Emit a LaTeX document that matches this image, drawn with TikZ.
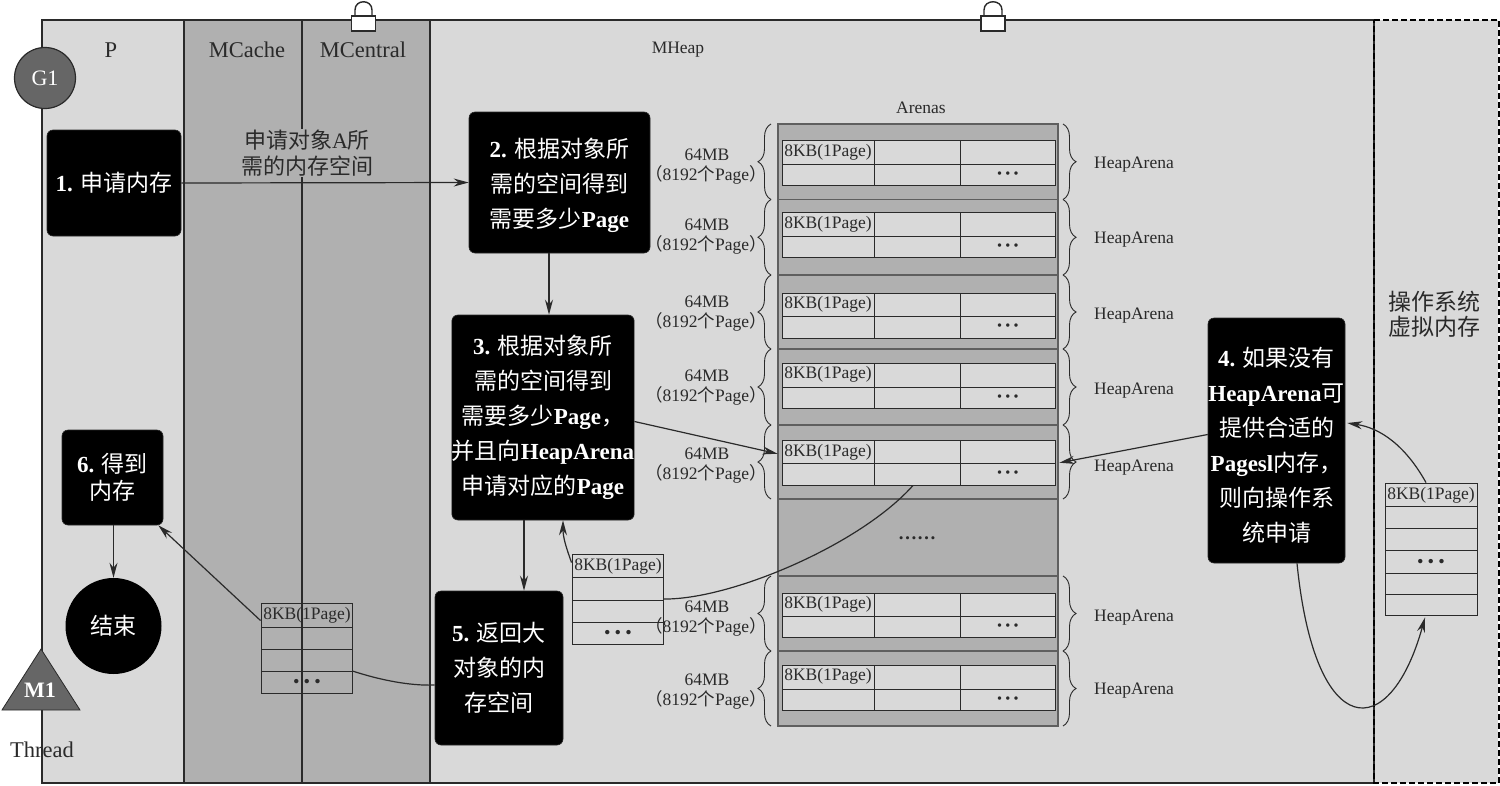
\documentclass[tikz,border=0pt]{standalone}
\usepackage{fontspec}
\setmainfont{Liberation Serif}
\newfontfamily\cjkf{Noto Sans CJK SC}
\newcommand\zh[1]{{\cjkf\mdseries #1}}
\usetikzlibrary{arrows.meta,decorations.pathreplacing,calc}
\definecolor{lite}{HTML}{D9D9D9}
\definecolor{mid}{HTML}{B0B0B0}
\definecolor{ink}{HTML}{2A2A2A}
\definecolor{tok}{HTML}{666666}
\newcommand\fs[2]{\fontsize{#1}{#2}\selectfont}
\newcommand\dotsrow{\textbf{·\kern.06em·\kern.06em·}}
\tikzset{
  wire/.style={draw=ink,line width=1.2pt},
  flow/.style={wire,-{Stealth[length=15pt,width=8pt]}},
  blackbox/.style={fill=black,draw=ink,line width=.6pt,rounded corners=6pt,text=white,inner sep=0pt,align=center,font=\fs{23}{35}\bfseries},
  tablebox/.style={draw=ink,line width=.9pt,inner sep=0pt},
  cell/.style={draw=ink,line width=.9pt},
  label17/.style={text=ink,inner sep=0pt,font=\fs{17.5}{20},align=center},
  label22/.style={text=ink,inner sep=0pt,font=\fs{22.5}{26},align=center},
  lockbody/.style={fill=white,draw=ink,line width=1.4pt},
  bracket/.style={draw=ink,line width=.9pt,decorate,decoration={brace,amplitude=13pt,aspect=.5}}
}
\begin{document}
\begin{tikzpicture}[x=1pt,y=-1pt]
\useasboundingbox (0,0) rectangle (1500,785);
% zones
\fill[lite] (42,20) rectangle (1498,783);
\fill[mid] (184,20) rectangle (430,783);
\draw[ink,line width=1.2pt] (42,20) rectangle (1374,783);
\draw[ink,line width=1.2pt] (184,20) -- (184,783) (302,20) -- (302,783) (430,20) -- (430,783);
\draw[black,line width=1.4pt,dashed,dash pattern=on 6pt off 3pt] (1374,20) -- (1499,20) -- (1499,783) -- (1374,783) -- cycle;
% locks
\draw[ink,line width=1.4pt] (355,16) -- (355,10) .. controls (355,-1) and (372,-1) .. (372,10) -- (372,16);
\draw[lockbody] (351.5,16) rectangle (375.5,31);
\draw[ink,line width=1.4pt] (984,16) -- (984,10) .. controls (984,-1) and (1002,-1) .. (1002,10) -- (1002,16);
\draw[lockbody] (981,16) rectangle (1005,31);
% headings
\node[label22] (lp) at (111,50) {P};
\node[label22] (lc) at (247,50) {MCache};
\node[label22] (lmc) at (363,50) {MCentral};
\node[label17] (lh) at (678,50) {MHeap};
\node[label17] (la) at (921,108) {Arenas};
\node[label22,font=\fs{23}{25}] (los) at (1434,314) {\zh{操作系统}\\\zh{虚拟内存}};
% tokens
\node[circle,fill=tok,draw=ink,line width=1.2pt,minimum size=61pt,inner sep=0pt,text=white,font=\fs{22}{26}] (g1) at (45,78) {G1};
\fill[tok,draw=ink,line width=.8pt] (41,649) -- (80,710) -- (2,710) -- cycle;
\node[text=white,inner sep=0pt,font=\fs{22}{26}\bfseries] (m1) at (40,690) {M1};
\node[label22] (thr) at (42,750) {Thread};
% arenas
\draw[fill=mid,draw=ink!75,line width=1.1pt] (778,124) rectangle (1058,726);
\foreach \i/\ra/\rb/\ta/\tm/\tz/\ya/\yb/\yh in {
  1/124/199.5/140.5/164/185/155/175/165,
  2/199.5/275/212.5/236/257/225/245/240,
  3/275/349/293/316/338/302/322/316,
  4/349/425/363/387/408/376/396/391,
  5/425/499/440.5/463/485/454/474/468,
  6/576/651/593/616/637/607/627/618,
  7/651/726/665/689/710/680/700/691}{
  \draw[ink!75,line width=1.1pt] (778,\ra) -- (1058,\ra) (778,\rb) -- (1058,\rb);
  \node[tablebox,fill=lite,minimum width=273pt,minimum height={(\tz-\ta)*1pt}] (r\i) at (918.5,{(\ta+\tz)/2}) {};
  \draw[cell] (782,\tm) -- (1055,\tm) (874,\ta) -- (874,\tz) (960,\ta) -- (960,\tz);
  \node[label17] (pg\i) at (828,{\ta+11.5}) {8KB(1Page)};
  \node[label17,font=\fs{21}{22}] (dt\i) at (1008,{\tm+12}) {\dotsrow};
  \node[label17] (mb\i) at (707,\ya) {64MB};
  \node[label17] (np\i) at (706,\yb) {\zh{（}8192\zh{个}Page\zh{）}};
  \node[label17] (ha\i) at (1134,\yh) {HeapArena};
  \draw[bracket] (771,\rb) -- (771,\ra);
  \draw[bracket] (1063,\ra) -- (1063,\rb);
}
\node[label17,font=\fs{19}{20}\bfseries] (gap) at (917,538) {……};
% small tables
\node[tablebox,minimum width=91pt,minimum height=90pt] (st) at (617.5,599) {};
\draw[cell] (572,577) -- (663,577) (572,600) -- (663,600) (572,622) -- (663,622);
\node[label17] (stp) at (618,566) {8KB(1Page)};
\node[label22,font=\fs{27}{28}] (std) at (618,636) {\dotsrow};
\node[tablebox,minimum width=91pt,minimum height=90pt] (tm) at (306.5,648) {};
\draw[cell] (261,627) -- (352,627) (261,649) -- (352,649) (261,671) -- (352,671);
\node[label17] (tmp) at (307,615) {8KB(1Page)};
\node[label22,font=\fs{27}{28}] (tmd) at (307,685) {\dotsrow};
\node[tablebox,minimum width=92pt,minimum height=132pt] (os) at (1431,549) {};
\draw[cell] (1385,506) -- (1477,506) (1385,528) -- (1477,528) (1385,550) -- (1477,550) (1385,573) -- (1477,573) (1385,594) -- (1477,594);
\node[label17] (osp) at (1431,495) {8KB(1Page)};
\node[label22,font=\fs{27}{28}] (osd) at (1431,565) {\dotsrow};
% black boxes
\node[blackbox,minimum width=134pt,minimum height=106pt] (b1) at (114,183) {1. \zh{申请内存}};
\node[blackbox,minimum width=181pt,minimum height=141pt] (b2) at (559.5,182.5) {\rule{0pt}{26pt}2. \zh{根据对象所}\\\zh{需的空间得到}\\\zh{需要多少}Page};
\node[blackbox,minimum width=182pt,minimum height=205pt] (b3) at (543,417.5) {3. \zh{根据对象所}\\\zh{需的空间得到}\\\zh{需要多少}Page\zh{，}\\\zh{并且向}HeapArena\\\zh{申请对应的}Page};
\node[blackbox,minimum width=137pt,minimum height=245pt] (b4) at (1276.5,440.5) {\rule{0pt}{28pt}4. \zh{如果没有}\\HeapArena\zh{可}\\\zh{提供合适的}\\Pagesl\zh{内存，}\\\zh{则向操作系}\\\zh{统申请}};
\node[blackbox,minimum width=128pt,minimum height=154pt] (b5) at (499,668) {5. \zh{返回大}\\\zh{对象的内}\\\zh{存空间}};
\node[blackbox,minimum width=101pt,minimum height=95pt,font=\fs{23}{27}\bfseries] (b6) at (112.5,477.5) {6. \zh{得到}\\\zh{内存}};
\node[circle,fill=black,minimum size=96pt,inner sep=0pt,text=white,font=\fs{23}{27}] (fin) at (113.5,626) {\zh{结束}};
% connectors
\draw[flow] (b1.east) -- (b2.west);
\node[fill=mid,inner sep=1pt,text=ink,font=\fs{22}{26},align=center] (req) at (307,153) {\zh{申请对象}A\zh{所}\\\zh{需的内存空间}};
\draw[flow] ([xshift=-10.5pt]b2.south) -- ([xshift=6pt]b3.north);
\draw[flow] ([yshift=-4pt]b3.east) -- ([xshift=-4pt,yshift=9pt]r5.west);
\draw[flow] ([yshift=6pt]b4.west) -- ([xshift=4pt]r5.east);
\draw[flow] ([xshift=-19pt]b3.south) -- ([xshift=25pt]b5.north);
\draw[flow] ([yshift=-9pt]st.north west) .. controls (567,550) and (563,538) .. ([xshift=20pt]b3.south);
\draw[wire] ([xshift=-5.5pt]r5.south) .. controls (860,545) and (730,600) .. (st.east);
\draw[wire] ([yshift=-17pt]b5.west) .. controls (410,686) and (380,680) .. ([yshift=-23pt]tm.east);
\draw[flow] ([yshift=-18pt]tm.north west) -- ([xshift=-5pt]b6.south east);
\draw[flow] ([xshift=1pt]b6.south) -- (fin.north);
\draw[flow] ([xshift=20.5pt]b4.south) .. controls (1315,744) and (1390,744) .. ([xshift=-6pt,yshift=-2pt]os.south);
\draw[flow] ([xshift=-5pt]os.north) .. controls (1405,445) and (1380,428) .. ([xshift=2pt,yshift=17.5pt]b4.east);
\end{tikzpicture}
\end{document}
